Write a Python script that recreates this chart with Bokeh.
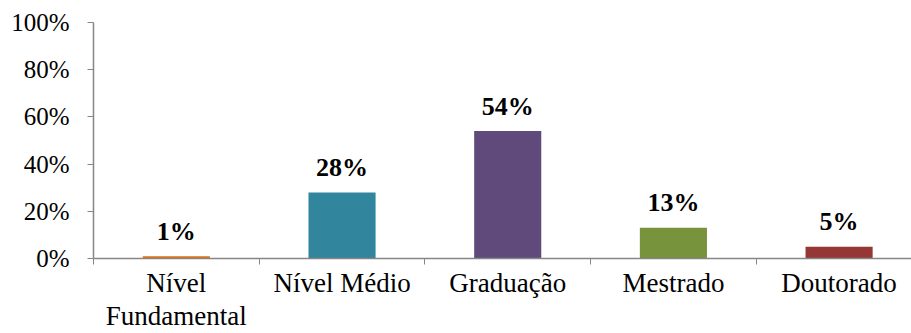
from bokeh.plotting import figure
from bokeh.models import ColumnDataSource, Range1d, FixedTicker, NumeralTickFormatter
from bokeh.core.properties import value
from bokeh.embed import file_html
from bokeh.resources import INLINE

categories = ["Nível\nFundamental", "Nível Médio", "Graduação", "Mestrado", "Doutorado"]
values = [0.01, 0.28, 0.54, 0.13, 0.05]
labels = ["1%", "28%", "54%", "13%", "5%"]
colors = ["#E46C0A", "#31859C", "#604A7B", "#77933C", "#953735"]
y_ticks = [0, 0.2, 0.4, 0.6, 0.8, 1.0]

FONT = "'Liberation Serif', 'Times New Roman', serif"
xs = [i + 0.5 for i in range(len(categories))]
src = ColumnDataSource(dict(x=xs, top=values, color=colors, label=labels))

p = figure(width=911, height=333, output_backend="svg", toolbar_location=None,
           x_range=Range1d(0, 4.937), y_range=Range1d(0, 1.0),
           min_border_left=93, min_border_right=0, min_border_top=22, min_border_bottom=74)
p.outline_line_color = None
p.grid.visible = False
p.background_fill_color = "white"
p.border_fill_color = "white"

p.vbar(x="x", top="top", width=0.405, bottom=0, color="color", source=src, line_color=None)
p.text(x="x", y="top", text="label", source=src, text_align="center", text_baseline="alphabetic",
       y_offset=-25, text_font=value(FONT), text_font_style="bold", text_font_size="26px",
       text_color="black")

xa = p.xaxis[0]
xa.ticker = FixedTicker(ticks=xs, minor_ticks=[0, 1, 2, 3, 4, 5])
xa.major_label_overrides = {x: c for x, c in zip(xs, categories)}
xa.major_tick_out = 0
xa.major_tick_in = 0
xa.minor_tick_out = 6
xa.minor_tick_in = 0
xa.minor_tick_line_color = "#868686"
xa.axis_line_color = "#868686"
xa.axis_line_width = 1.5
xa.major_label_text_font = FONT
xa.major_label_text_font_size = "27px"
xa.major_label_text_line_height = 1.1
xa.major_label_text_color = "black"
xa.major_label_standoff = 3

ya = p.yaxis[0]
ya.ticker = FixedTicker(ticks=y_ticks, minor_ticks=[])
ya.formatter = NumeralTickFormatter(format="0%")
ya.major_tick_out = 6
ya.major_tick_in = 0
ya.major_tick_line_color = "#868686"
ya.axis_line_color = "#868686"
ya.axis_line_width = 1.5
ya.major_label_text_font = FONT
ya.major_label_text_font_size = "25px"
ya.major_label_text_color = "black"
ya.major_label_standoff = 18

open("out.html", "w").write(file_html(p, INLINE))
